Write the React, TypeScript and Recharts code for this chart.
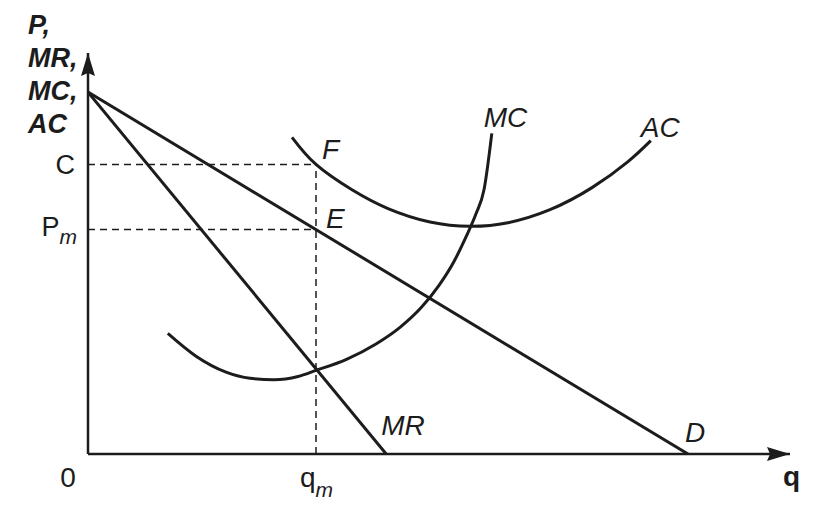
import { LineChart, Line, XAxis, YAxis, ReferenceLine, ReferenceDot } from "recharts";

// monopoly diagram: quantity q on x, price / cost on y
const demand = [
  { q: 0, p: 100 },
  { q: 100, p: 0 },
];
const marginalRevenue = [
  { q: 0, p: 100 },
  { q: 49.7, p: 0 },
];
const marginalCost = [
  { q: 13.3, p: 33.3 },
  { q: 18, p: 27 },
  { q: 23, p: 22.6 },
  { q: 27, p: 20.9 },
  { q: 31, p: 20.5 },
  { q: 35, p: 21.4 },
  { q: 38, p: 23.1 },
  { q: 43, p: 26.1 },
  { q: 48, p: 30.4 },
  { q: 52, p: 35 },
  { q: 55.5, p: 40.4 },
  { q: 58.5, p: 46.6 },
  { q: 61, p: 53.2 },
  { q: 63, p: 60 },
  { q: 64.7, p: 66.5 },
  { q: 66, p: 73 },
  { q: 67.3, p: 88.6 },
];
const averageCost = [
  { q: 34, p: 87.5 },
  { q: 38, p: 80 },
  { q: 44, p: 73 },
  { q: 50, p: 67.8 },
  { q: 57, p: 64.1 },
  { q: 63.7, p: 62.9 },
  { q: 70, p: 63.9 },
  { q: 77, p: 67.5 },
  { q: 84, p: 73.6 },
  { q: 90, p: 80.8 },
  { q: 93.8, p: 86.6 },
];

const qm = 38;
const pm = 62;
const cost = 80;
const qMax = 117;
const pMax = 110.8;

const ink = "#1c1c1c";
const font = "'Liberation Sans', Arial, sans-serif";

const YTick = (props: any) => {
  const { x, y, payload } = props;
  if (payload.value === cost) {
    return (
      <text x={x} y={y + 10} textAnchor="end" fontSize={27} fill={ink} fontFamily={font}>
        C
      </text>
    );
  }
  return (
    <text x={x + 2} y={y + 6} textAnchor="end" fontSize={27} fill={ink} fontFamily={font}>
      P<tspan fontSize={21} dy={8} fontStyle="italic">m</tspan>
    </text>
  );
};

const XTick = (props: any) => {
  const { x, y } = props;
  return (
    <text x={x - 16} y={y + 31} fontSize={28} fill={ink} fontFamily={font}>
      q<tspan fontSize={21} dy={10} fontStyle="italic">m</tspan>
    </text>
  );
};

const label = (text: string, dx: number, dy: number) => (props: any) => (
  <text
    x={props.cx + dx}
    y={props.cy + dy}
    fontSize={28}
    fontStyle="italic"
    fill={ink}
    fontFamily={font}
  >
    {text}
  </text>
);

const yArrow = (props: any) => {
  const { cx, cy } = props;
  const lines = ["P,", "MR,", "MC,", "AC"];
  return (
    <g>
      <path d={`M${cx},${cy} L${cx + 7},${cy + 23} L${cx},${cy + 20} L${cx - 7},${cy + 23} Z`} fill={ink} />
      {lines.map((t, i) => (
        <text
          key={t}
          x={cx - 60}
          y={cy - 19 + i * 33}
          fontSize={27}
          fontWeight="bold"
          fontStyle="italic"
          fill={ink}
          fontFamily={font}
        >
          {t}
        </text>
      ))}
    </g>
  );
};

const xArrow = (props: any) => {
  const { cx, cy } = props;
  return (
    <g>
      <path d={`M${cx},${cy} L${cx - 23},${cy - 7} L${cx - 20},${cy} L${cx - 23},${cy + 7} Z`} fill={ink} />
      <text x={cx - 7} y={cy + 32} fontSize={28} fontWeight="bold" fill={ink} fontFamily={font}>
        q
      </text>
    </g>
  );
};

const origin = (props: any) => (
  <text x={props.cx - 20} y={props.cy + 33} textAnchor="middle" fontSize={28} fill={ink} fontFamily={font}>
    0
  </text>
);

export default function App() {
  return (
    <div style={{ position: "absolute", left: 0, top: 0, background: "#fff" }}>
      <LineChart width={816} height={512} margin={{ top: 53, right: 26, left: 28, bottom: 28 }}>
        <XAxis
          type="number"
          dataKey="q"
          domain={[0, qMax]}
          ticks={[qm]}
          tick={<XTick />}
          tickLine={false}
          tickSize={0}
          height={30}
          axisLine={{ stroke: ink, strokeWidth: 2.5 }}
          allowDataOverflow
        />
        <YAxis
          type="number"
          dataKey="p"
          domain={[0, pMax]}
          ticks={[pm, cost]}
          tick={<YTick />}
          tickLine={false}
          tickSize={0}
          tickMargin={13}
          width={60}
          axisLine={{ stroke: ink, strokeWidth: 2.5 }}
          allowDataOverflow
        />
        <ReferenceLine segment={[{ x: 0, y: cost }, { x: qm, y: cost }]} stroke={ink} strokeWidth={1.5} strokeDasharray="7 5" ifOverflow="visible" />
        <ReferenceLine segment={[{ x: 0, y: pm }, { x: qm, y: pm }]} stroke={ink} strokeWidth={1.5} strokeDasharray="7 5" ifOverflow="visible" />
        <ReferenceLine segment={[{ x: qm, y: 0 }, { x: qm, y: cost }]} stroke={ink} strokeWidth={1.5} strokeDasharray="7 5" ifOverflow="visible" />
        <Line data={demand} dataKey="p" type="linear" stroke={ink} strokeWidth={3} dot={false} activeDot={false} isAnimationActive={false} />
        <Line data={marginalRevenue} dataKey="p" type="linear" stroke={ink} strokeWidth={3} dot={false} activeDot={false} isAnimationActive={false} />
        <Line data={marginalCost} dataKey="p" type="monotone" stroke={ink} strokeWidth={3} dot={false} activeDot={false} isAnimationActive={false} />
        <Line data={averageCost} dataKey="p" type="natural" stroke={ink} strokeWidth={3} dot={false} activeDot={false} isAnimationActive={false} />
        <ReferenceDot x={qm} y={cost} r={0} shape={label("F", 6, -5)} ifOverflow="visible" />
        <ReferenceDot x={qm} y={pm} r={0} shape={label("E", 10, -2)} ifOverflow="visible" />
        <ReferenceDot x={67.3} y={88.6} r={0} shape={label("MC", -8, -6)} ifOverflow="visible" />
        <ReferenceDot x={93.8} y={86.6} r={0} shape={label("AC", -10, -4)} ifOverflow="visible" />
        <ReferenceDot x={49.7} y={0} r={0} shape={label("MR", -5, -19)} ifOverflow="visible" />
        <ReferenceDot x={100} y={0} r={0} shape={label("D", -3, -12)} ifOverflow="visible" />
        <ReferenceDot x={0} y={pMax} r={0} shape={yArrow} ifOverflow="visible" />
        <ReferenceDot x={qMax} y={0} r={0} shape={xArrow} ifOverflow="visible" />
        <ReferenceDot x={0} y={0} r={0} shape={origin} ifOverflow="visible" />
      </LineChart>
    </div>
  );
}
